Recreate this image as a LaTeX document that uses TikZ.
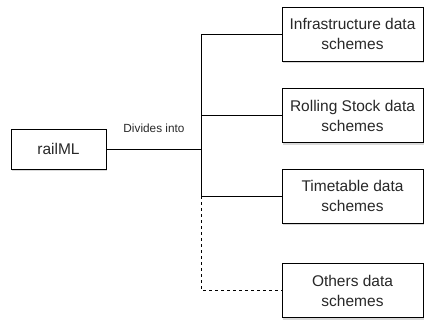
\documentclass[tikz,border=0pt]{standalone}
\usepackage{fontspec}
\setmainfont{Liberation Sans}
\usepackage{tikz}
\usetikzlibrary{shadows}
\definecolor{txt}{RGB}{40,40,40}

\tikzset{
  box/.style={draw, line width=0.9pt, fill=white, text=txt,
    drop shadow={shadow xshift=1.2pt, shadow yshift=-2pt, opacity=0.3},
    font=\fontsize{15.5}{20}\selectfont, align=center},
  link/.style={line width=0.9pt}
}

\begin{document}
\begin{tikzpicture}[x=1pt,y=-1pt]
\useasboundingbox (0,0) rectangle (424,322);
\node[box, minimum width=95pt, minimum height=40pt] (0) at (58.5,149) {railML};
\node[box, minimum width=141pt, minimum height=54pt] (1) at (352.5,34) {Infrastructure data\\schemes};
\node[box, minimum width=141pt, minimum height=54pt] (2) at (352.5,115.5) {Rolling Stock data\\schemes};
\node[box, minimum width=141pt, minimum height=54pt] (3) at (352.5,196) {Timetable data\\schemes};
\node[box, minimum width=141pt, minimum height=54pt] (4) at (352.5,290.5) {Others data\\schemes};
\coordinate (j) at (201.5,149);
\coordinate (k) at (201.5,196);
\draw [link](0.east)--(j) node[midway, above=13pt, text=txt, font=\fontsize{11.8}{14}\selectfont]{Divides into};
\draw [link](j)|-(1.west);
\draw [link](j)|-(2.west);
\draw [link](j)|-(3.west);
\draw [link, dashed](k)|-(4.west);
\end{tikzpicture}
\end{document}
